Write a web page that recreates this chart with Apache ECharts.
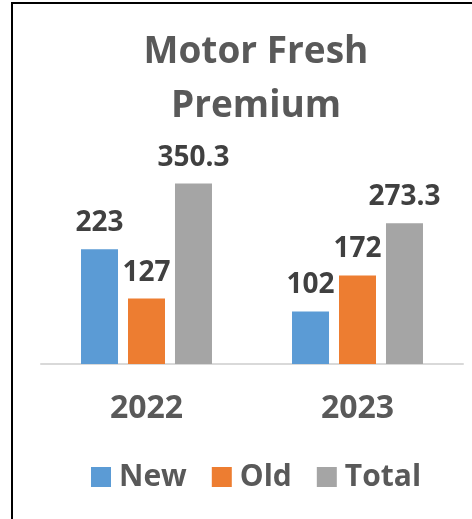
<!DOCTYPE html>
<html>
<head>
<meta charset="utf-8">
<script src="https://cdn.jsdelivr.net/npm/echarts@6/dist/echarts.min.js"></script>
<style>
  html, body { margin: 0; padding: 0; background: #fff; }
  #main { width: 472px; height: 519px; }
  #frame { position: absolute; left: 11px; top: 2px; width: 461px; height: 517px;
           border-left: 2px solid #000; border-top: 2px solid #000; pointer-events: none; }
</style>
</head>
<body>
<div id="main"></div>
<div id="frame"></div>
<script>
const years = ['2022', '2023'];
const newVals = [223, 102];
const oldVals = [127, 172];
const totalVals = [350.3, 273.3];

const chart = echarts.init(document.getElementById('main'));

const labelStyle = {
  show: true,
  position: 'top',
  distance: 12,
  color: '#404040',
  fontSize: 28,
  fontWeight: 'bold',
  fontFamily: 'Open Sans'
};

chart.setOption({
  backgroundColor: '#fff',
  title: {
    text: 'Motor Fresh\nPremium',
    left: 251,
    textAlign: 'center',
    top: 20,
    textStyle: {
      color: '#595959',
      fontSize: 37,
      fontWeight: 'bold',
      fontFamily: 'Open Sans',
      lineHeight: 54
    }
  },
  legend: {
    bottom: 22,
    left: 86,
    icon: 'rect',
    itemWidth: 20,
    itemHeight: 20,
    itemGap: 25,
    textStyle: {
      color: '#595959',
      fontSize: 30,
      fontWeight: 'bold',
      fontFamily: 'Open Sans',
      padding: [0, 0, 0, 3]
    },
    data: ['New', 'Old', 'Total']
  },
  grid: { left: 41, right: 9, top: 158, bottom: 155, containLabel: false },
  xAxis: {
    type: 'category',
    data: years,
    axisLine: { lineStyle: { color: '#d9d9d9', width: 2 } },
    axisTick: { show: false },
    axisLabel: {
      color: '#595959',
      fontSize: 32,
      fontWeight: 'bold',
      fontFamily: 'Open Sans',
      margin: 29
    }
  },
  yAxis: {
    type: 'value',
    min: 0,
    max: 400,
    show: false,
    splitLine: { show: false }
  },
  series: [
    { name: 'New', type: 'bar', data: newVals, barWidth: 37, barGap: '27%',
      itemStyle: { color: '#5b9bd5' }, label: labelStyle },
    { name: 'Old', type: 'bar', data: oldVals, barWidth: 37, barGap: '27%',
      itemStyle: { color: '#ed7d31' }, label: labelStyle },
    { name: 'Total', type: 'bar', data: totalVals, barWidth: 37, barGap: '27%',
      itemStyle: { color: '#a5a5a5' }, label: labelStyle }
  ]
});
</script>
</body>
</html>
